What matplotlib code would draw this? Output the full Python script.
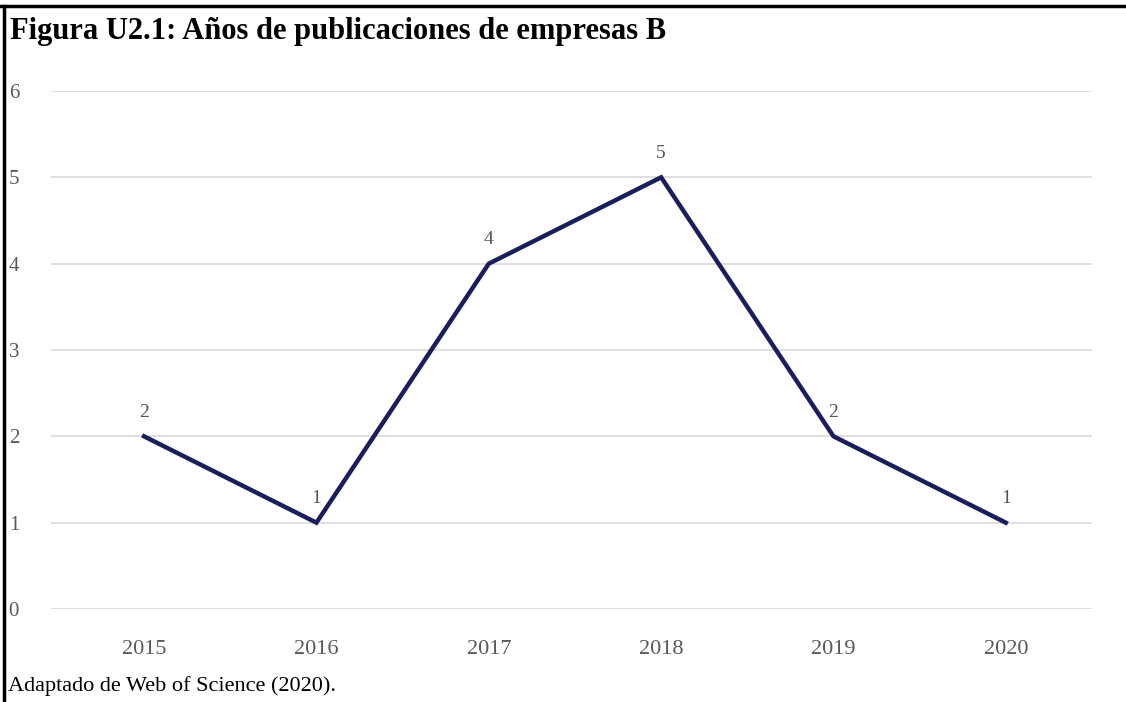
import matplotlib.pyplot as plt
from matplotlib.lines import Line2D

# Publicaciones por año
years = ['2015', '2016', '2017', '2018', '2019', '2020']
counts = [2, 1, 4, 5, 2, 1]
yticks = [0, 1, 2, 3, 4, 5, 6]

plt.rcParams['font.family'] = ['Liberation Serif', 'DejaVu Serif']

fig = plt.figure(figsize=(11.26, 7.02), dpi=100)
ax = fig.add_axes([51 / 1126, 93 / 702, 1041 / 1126, 518 / 702])

x = range(len(years))
ax.plot(x, counts, color='#1e1d5c', linewidth=3.2, solid_joinstyle='miter', zorder=3)
for xi, c in zip(x, counts):
    ax.annotate(str(c), (xi, c), xytext=(0, 11), textcoords='offset points',
                ha='center', va='bottom', fontsize=14, color='#555555')

ax.set_xlim(-0.54, 5.5)
ax.set_ylim(0, 6)
ax.set_xticks(list(x))
ax.set_xticklabels(years)
ax.set_yticks(yticks)
ax.grid(axis='y', color='#d9d9d9', linewidth=1.2)
ax.set_axisbelow(True)
for s in ax.spines.values():
    s.set_visible(False)
ax.tick_params(length=0, labelcolor='#595959')
ax.tick_params(axis='x', labelsize=16, pad=22)
ax.tick_params(axis='y', labelsize=15, pad=23)

# marco de la figura
fig.add_artist(Line2D([0, 1], [1 - 6 / 702, 1 - 6 / 702], transform=fig.transFigure,
                      color='black', linewidth=2.5))
fig.add_artist(Line2D([3.5 / 1126, 3.5 / 1126], [0, 1 - 6 / 702], transform=fig.transFigure,
                      color='black', linewidth=2.5))

fig.text(10 / 1126, 1 - 31 / 702, 'Figura U2.1: Años de publicaciones de empresas B',
         fontsize=22, fontweight='bold', va='center', ha='left')
fig.text(8 / 1126, 1 - 686 / 702, 'Adaptado de Web of Science (2020).',
         fontsize=16, va='center', ha='left')

fig.savefig('out.png', dpi=100)
